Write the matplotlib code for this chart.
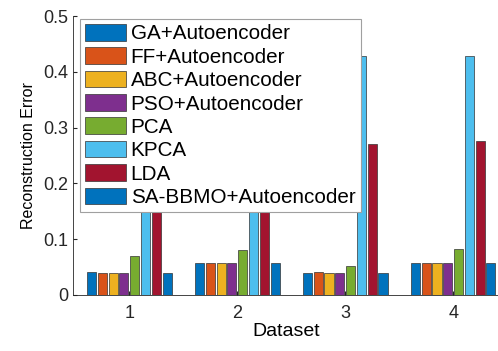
import numpy as np
import matplotlib
matplotlib.use("Agg")
import matplotlib.pyplot as plt

plt.rcParams['font.family'] = ['Liberation Sans', 'DejaVu Sans']

datasets = ["1", "2", "3", "4"]
methods = ["GA+Autoencoder", "FF+Autoencoder", "ABC+Autoencoder", "PSO+Autoencoder",
           "PCA", "KPCA", "LDA", "SA-BBMO+Autoencoder"]
# one list per method, values for datasets 1-4
ga = [0.041, 0.058, 0.040, 0.058]
ff = [0.040, 0.058, 0.041, 0.058]
abc = [0.040, 0.058, 0.040, 0.058]
pso = [0.040, 0.058, 0.040, 0.058]
pca = [0.070, 0.081, 0.051, 0.082]
kpca = [0.300, 0.330, 0.428, 0.428]
lda = [0.220, 0.230, 0.270, 0.276]
sabbmo = [0.040, 0.058, 0.040, 0.058]
values = [ga, ff, abc, pso, pca, kpca, lda, sabbmo]

colors = ["#0072BD", "#D95319", "#EDB120", "#7E2F8E", "#77AC30", "#4DBEEE", "#A2142F", "#0072BD"]

fig = plt.figure(figsize=(4.98, 3.51), dpi=100)
ax = fig.add_axes([0.147, 0.160, 0.854, 0.794])

x = np.arange(1, len(datasets) + 1)
slot = 0.8 / len(methods)
for i, (name, vals) in enumerate(zip(methods, values)):
    off = (i - (len(methods) - 1) / 2) * slot
    ax.bar(x + off, vals, width=slot * 0.84, color=colors[i], edgecolor="#333333",
           linewidth=0.5, label=name, zorder=2)

ax.set_xlim(0.48, 4.42)
ax.set_ylim(0, 0.5)
ax.set_xticks(x)
ax.set_xticklabels(datasets)
ax.set_yticks(np.arange(0, 0.51, 0.1))
ax.set_yticklabels(["0", "0.1", "0.2", "0.3", "0.4", "0.5"])
ax.tick_params(direction="in", labelsize=13, length=3, colors="#262626")
ax.tick_params(axis="x", pad=7)
ax.spines["top"].set_visible(False)
ax.spines["right"].set_visible(False)
for s in ("left", "bottom"):
    ax.spines[s].set_color("#262626")
    ax.spines[s].set_linewidth(0.6)
ax.set_xlabel("Dataset", fontsize=14, labelpad=1)
ax.set_ylabel("Reconstruction Error", fontsize=11.5, labelpad=5)

leg = ax.legend(loc="upper left", bbox_to_anchor=(0.006, 1.005), fontsize=14.9,
                handlelength=2.0, handleheight=0.85, handletextpad=0.2,
                labelspacing=0.19, borderpad=0.25, borderaxespad=0.2,
                fancybox=False, framealpha=1, edgecolor="#a0a0a0")
leg.get_frame().set_linewidth(0.8)

fig.savefig("out.png", dpi=100)
